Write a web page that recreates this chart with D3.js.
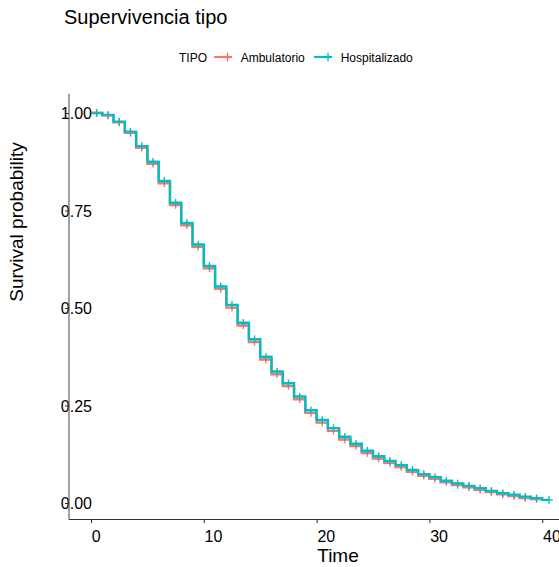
<!DOCTYPE html>
<html>
<head>
<meta charset="utf-8">
<script src="https://cdn.jsdelivr.net/npm/d3@7"></script>
<style>
  html, body { margin: 0; padding: 0; background: #fff; }
  svg { display: block; font-family: "Liberation Sans", Arial, sans-serif; }
</style>
</head>
<body>
<svg id="chart" width="559" height="567"></svg>
<script>
// ---- data ----
const title = "Supervivencia tipo";
const legendTitle = "TIPO";
const groups = ["Ambulatorio", "Hospitalizado"];
const colors = ["#F8766D", "#00BFC4"];

const stepTimes = [0,1,2,3,4,5,6,7,8,9,10,11,12,13,14,15,16,17,18,19,20,21,22,23,24,25,26,27,28,29,30,31,32,33,34,35,36,37,38,39,40];

const ambulatorio = [1.000,0.994,0.976,0.949,0.911,0.870,0.820,0.764,0.712,0.657,0.602,0.549,0.501,0.455,0.413,0.368,0.330,0.300,0.266,0.231,0.206,0.185,0.163,0.146,0.128,0.114,0.103,0.092,0.080,0.070,0.062,0.053,0.046,0.040,0.034,0.028,0.022,0.018,0.013,0.010,0.010];
const hospitalizado = [1.000,0.995,0.978,0.952,0.915,0.875,0.826,0.770,0.718,0.663,0.608,0.555,0.508,0.462,0.420,0.375,0.337,0.307,0.273,0.238,0.213,0.192,0.170,0.152,0.134,0.120,0.108,0.097,0.085,0.074,0.066,0.057,0.050,0.044,0.038,0.031,0.025,0.021,0.016,0.012,0.008];
const hospEndTime = 40.6;

const censorTimes = [0.5,1.5,2.5,3.5,4.5,5.5,6.5,7.5,8.5,9.5,10.5,11.5,12.5,13.5,14.5,15.5,16.5,17.5,18.5,19.5,20.5,21.5,22.5,23.5,24.5,25.5,26.5,27.5,28.5,29.5,30.5,31.5,32.5,33.5,34.5,35.5,36.5,37.5,38.5,39.5];

const xTicks = [0, 10, 20, 30, 40];
const yTicks = [0, 0.25, 0.5, 0.75, 1.0];
const yTickLabels = ["0.00", "0.25", "0.50", "0.75", "1.00"];
const xLabel = "Time";
const yLabel = "Survival probability";

// ---- layout ----
const svg = d3.select("#chart");
const x = d3.scaleLinear().domain([0, 40]).range([91, 542.2]);
const y = d3.scaleLinear().domain([0, 1]).range([503, 113]);
const xMin = -1.95, yMin = -0.0395, yMax = 1.0495;

// title
svg.append("text").attr("x", 64).attr("y", 24)
  .attr("font-size", 20).attr("fill", "#000").text(title);

// legend
const lg = svg.append("g").attr("font-size", 12).attr("fill", "#000");
lg.append("text").attr("x", 179).attr("y", 62).text(legendTitle);
const legendItems = [
  {lx0: 214, lx1: 232, cx: 227.5, tx: 240.7},
  {lx0: 314, lx1: 332, cx: 328, tx: 340.7}
];
legendItems.forEach((it, i) => {
  lg.append("line").attr("x1", it.lx0).attr("x2", it.lx1).attr("y1", 57).attr("y2", 57)
    .attr("stroke", colors[i]).attr("stroke-width", 2.2);
  lg.append("line").attr("x1", it.cx - 4.3).attr("x2", it.cx + 4.3).attr("y1", 57).attr("y2", 57)
    .attr("stroke", colors[i]).attr("stroke-width", 1.4);
  lg.append("line").attr("x1", it.cx).attr("x2", it.cx).attr("y1", 52.7).attr("y2", 61.3)
    .attr("stroke", colors[i]).attr("stroke-width", 1.4);
  lg.append("text").attr("x", it.tx).attr("y", 62).text(groups[i]);
});

// axes
const xAxis = d3.axisBottom(x).tickValues(xTicks).tickSize(4).tickSizeOuter(0).tickFormat(d3.format("d"));
const gx = svg.append("g").attr("transform", "translate(0,519)").call(xAxis);
gx.select(".domain").remove();
gx.append("line").attr("x1", x(xMin)).attr("x2", 560).attr("y1", 0.5).attr("y2", 0.5)
  .attr("stroke", "#333").attr("stroke-width", 1.1);
gx.selectAll(".tick line").attr("stroke", "#333").attr("stroke-width", 1.1);
gx.selectAll(".tick text").attr("font-size", 16).attr("fill", "#000")
  .attr("text-anchor", "start").attr("font-family", "Liberation Sans, Arial, sans-serif")
  .attr("x", 0.3).attr("y", 23).attr("dy", 0);

const yAxis = d3.axisLeft(y).tickValues(yTicks).tickSize(4).tickSizeOuter(0)
  .tickFormat((d, i) => yTickLabels[i]);
const gy = svg.append("g").attr("transform", "translate(69,0)").call(yAxis);
gy.select(".domain").remove();
gy.append("line").attr("x1", 0).attr("x2", 0).attr("y1", y(yMax)).attr("y2", y(yMin) + 1)
  .attr("stroke", "#555").attr("stroke-width", 1.1);
gy.selectAll(".tick line").attr("stroke", "#333");
gy.selectAll(".tick text").attr("font-size", 16).attr("fill", "#000")
  .attr("font-family", "Liberation Sans, Arial, sans-serif")
  .attr("text-anchor", "end").attr("x", 23).attr("dy", "0.35em");

// axis titles
svg.append("text").attr("x", 338).attr("y", 562).attr("text-anchor", "middle")
  .attr("font-size", 19).attr("fill", "#000").text(xLabel);
svg.append("text").attr("transform", "translate(23,222) rotate(-90)")
  .attr("text-anchor", "middle").attr("font-size", 19).attr("fill", "#000").text(yLabel);

// curves
const series = [
  {vals: ambulatorio, end: 40},
  {vals: hospitalizado, end: hospEndTime}
];
const line = d3.line().x(d => x(d[0])).y(d => y(d[1])).curve(d3.curveStepAfter);
series.forEach((s, i) => {
  const pts = stepTimes.map((t, k) => [t, s.vals[k]]);
  if (s.end > stepTimes[stepTimes.length - 1]) pts.push([s.end, s.vals[s.vals.length - 1]]);
  svg.append("path").datum(pts).attr("d", line).attr("fill", "none")
    .attr("stroke", colors[i]).attr("stroke-width", 2.4).attr("stroke-linejoin", "miter");
});

// censor marks
series.forEach((s, i) => {
  const marks = censorTimes.map((t, k) => [t, s.vals[k]]);
  if (i === 1) marks.push([hospEndTime, s.vals[s.vals.length - 1]]);
  const g = svg.append("g").attr("stroke", colors[i]).attr("stroke-width", 1.4);
  marks.forEach(m => {
    const cx = x(m[0]), cy = y(m[1]);
    g.append("line").attr("x1", cx - 3.8).attr("x2", cx + 3.8).attr("y1", cy).attr("y2", cy);
    g.append("line").attr("x1", cx).attr("x2", cx).attr("y1", cy - 3.8).attr("y2", cy + 3.8);
  });
});
</script>
</body>
</html>
